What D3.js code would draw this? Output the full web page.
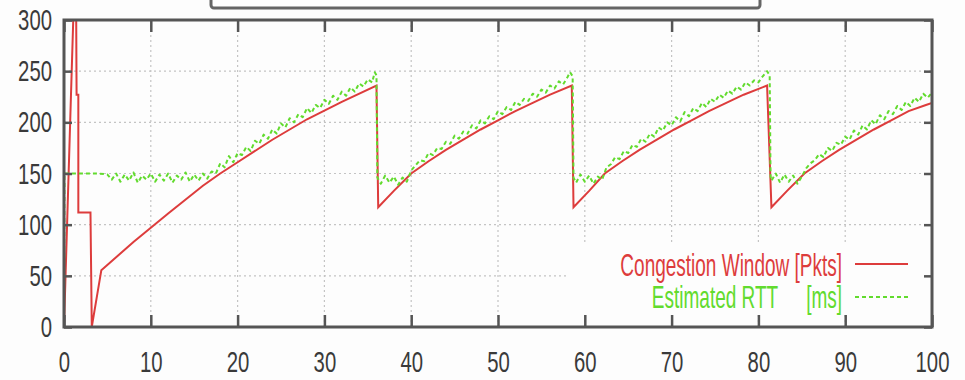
<!DOCTYPE html>
<html>
<head>
<meta charset="utf-8">
<script src="https://cdn.jsdelivr.net/npm/d3@7"></script>
<style>
  body { margin: 0; background: #fdfdfd; }
  svg { display: block; }
  .tick text { fill: #3a3a3a; }
</style>
</head>
<body>
<svg id="chart" width="965" height="380"></svg>
<script>
// values
const xTicks = [0, 10, 20, 30, 40, 50, 60, 70, 80, 90, 100];
const yTicks = [0, 50, 100, 150, 200, 250, 300];
const legendLabels = ["Congestion Window [Pkts]", "Estimated RTT", "[ms]"];

// congestion window [pkts] vs time
const cwnd = [
  [0, 0], [1.1, 310], [1.4, 310], [1.45, 227], [1.65, 227], [1.65, 112], [3.05, 112], [3.2, 0],
  [4.3, 55.5], [8, 83], [12, 111], [16, 138], [18, 150], [20, 161], [24, 183], [28, 203],
  [32, 220], [36, 236],
  [36.2, 117], [38, 133], [40, 150], [42, 162], [44, 173], [46, 183], [48, 193], [50, 202],
  [52, 211], [54, 219], [56, 227], [58.5, 236],
  [58.7, 117], [60.5, 133], [62.3, 150], [64.3, 162], [66.3, 173], [68.3, 183], [70.3, 193],
  [72.3, 202], [74.3, 211], [76.3, 219], [78.3, 227], [81, 236],
  [81.5, 117], [83.3, 133], [85.3, 150], [87.3, 162], [89.3, 173], [91.3, 183], [93.3, 193],
  [95.3, 202], [97.3, 211], [99.3, 217], [100, 219]
];

// estimated rtt [ms] vs time
const rtt = [
  [0, 0], [0.05, 150], [1, 150], [2, 150], [3, 150], [4, 150], [5, 149],
  [5.5, 144], [6, 150], [6.5, 142], [7, 149], [7.5, 143], [8, 151], [8.5, 141], [9, 148],
  [9.5, 144], [10, 150], [10.5, 142], [11, 149], [11.5, 143], [12, 150], [12.5, 141], [13, 148],
  [13.5, 144], [14, 151], [14.5, 142], [15, 149], [15.5, 143], [16, 150], [16.5, 145], [17, 152],
  [17.5, 150], [18, 160], [18.5, 156], [19, 167], [19.5, 161], [20, 170], [20.5, 168], [21, 176],
  [21.5, 172], [22, 182], [22.5, 179], [23, 188], [23.5, 184], [24, 193], [24.5, 189], [25, 199],
  [25.5, 195], [26, 204], [26.5, 200], [27, 208], [27.5, 205], [28, 214], [28.5, 209], [29, 217],
  [29.5, 214], [30, 222], [30.5, 218], [31, 226], [31.5, 222], [32, 230], [32.5, 226], [33, 234],
  [33.5, 230], [34, 238], [34.5, 235], [35, 242], [35.5, 239], [35.8, 249], [36, 246],
  [36.1, 146], [36.5, 140], [37, 148], [37.5, 141], [38, 147], [38.5, 139], [39, 146], [39.5, 142],
  [40, 153], [40.5, 158], [41, 163], [41.5, 162], [42, 170], [42.5, 168], [43, 175], [43.5, 174],
  [44, 181], [44.5, 179], [45, 187], [45.5, 184], [46, 191], [46.5, 189], [47, 197], [47.5, 194],
  [48, 202], [48.5, 199], [49, 206], [49.5, 203], [50, 211], [50.5, 208], [51, 215], [51.5, 212],
  [52, 220], [52.5, 217], [53, 223], [53.5, 221], [54, 228], [54.5, 225], [55, 232], [55.5, 229],
  [56, 236], [56.5, 233], [57, 240], [57.5, 237], [58, 244], [58.3, 249], [58.6, 245],
  [58.7, 146], [59, 141], [59.5, 149], [60, 142], [60.5, 148], [61, 140], [61.5, 147], [62, 144],
  [62.5, 156], [63, 159], [63.5, 166], [64, 164], [64.5, 172], [65, 170], [65.5, 178], [66, 176],
  [66.5, 184], [67, 181], [67.5, 189], [68, 186], [68.5, 195], [69, 192], [69.5, 200], [70, 197],
  [70.5, 205], [71, 201], [71.5, 210], [72, 206], [72.5, 214], [73, 211], [73.5, 219], [74, 215],
  [74.5, 223], [75, 220], [75.5, 227], [76, 224], [76.5, 231], [77, 228], [77.5, 235], [78, 232],
  [78.5, 239], [79, 236], [79.5, 241], [80, 239], [80.5, 245], [81, 250], [81.3, 246],
  [81.4, 147], [81.5, 143], [82, 150], [82.5, 141], [83, 149], [83.5, 142], [84, 148], [84.5, 140],
  [85, 147], [85.5, 155], [86, 160], [86.5, 163], [87, 169], [87.5, 166], [88, 175], [88.5, 172],
  [89, 180], [89.5, 178], [90, 186], [90.5, 183], [91, 192], [91.5, 188], [92, 197], [92.5, 193],
  [93, 202], [93.5, 198], [94, 207], [94.5, 203], [95, 211], [95.5, 208], [96, 216], [96.5, 212],
  [97, 220], [97.5, 216], [98, 224], [98.5, 220], [99, 228], [99.5, 224], [100, 229]
];

const RED = "#dd3c3c";
const GREEN = "#62db2e";
const AXIS = "#555";
const FONT = "'Liberation Sans Narrow', 'Arial Narrow', 'Liberation Sans', Arial, sans-serif";

const svg = d3.select("#chart");
const m = { left: 64, right: 932, top: 20, bottom: 327 };

const x = d3.scaleLinear().domain([0, 100]).range([m.left, m.right]);
const y = d3.scaleLinear().domain([0, 300]).range([m.bottom, m.top]);

// piece of the slide title box, cut off at the top
svg.append("rect")
  .attr("x", 211).attr("y", -20).attr("width", 549).attr("height", 28).attr("rx", 3)
  .attr("fill", "#fff").attr("stroke", "#666").attr("stroke-width", 3);

// grid
const grid = svg.append("g").attr("stroke", "#c4c4c4").attr("stroke-width", 1.2)
  .attr("stroke-dasharray", "2,3");
grid.selectAll(".gx").data(xTicks.slice(1, -1)).join("line")
  .attr("x1", d => x(d)).attr("x2", d => x(d)).attr("y1", m.top).attr("y2", m.bottom);
grid.selectAll(".gy").data(yTicks.slice(1, -1)).join("line")
  .attr("y1", d => y(d)).attr("y2", d => y(d)).attr("x1", m.left).attr("x2", m.right);

// legend background hides grid behind it
svg.append("rect").attr("x", 567).attr("y", 243).attr("width", m.right - 567 - 2).attr("height", 72)
  .attr("fill", "#fdfdfd");

// clip to plot area
svg.append("clipPath").attr("id", "plot").append("rect")
  .attr("x", m.left).attr("y", m.top).attr("width", m.right - m.left).attr("height", m.bottom - m.top);

const line = d3.line().x(d => x(d[0])).y(d => y(d[1]));
const plot = svg.append("g").attr("clip-path", "url(#plot)");

plot.append("path").datum(cwnd).attr("d", line)
  .attr("fill", "none").attr("stroke", RED).attr("stroke-width", 2);
plot.append("path").datum(rtt).attr("d", line)
  .attr("fill", "none").attr("stroke", GREEN).attr("stroke-width", 2)
  .attr("stroke-dasharray", "4,3").attr("stroke-linejoin", "round");

// axes
function styleAxis(g) {
  g.select(".domain").remove();
  g.selectAll(".tick line").attr("stroke", AXIS).attr("stroke-width", 2.5);
  g.selectAll(".tick text")
    .attr("font-family", FONT).attr("font-size", 30)
    .attr("textLength", d => String(d).length * 11.3)
    .attr("lengthAdjust", "spacingAndGlyphs");
}

svg.append("g").attr("transform", `translate(0,${m.bottom})`)
  .call(d3.axisBottom(x).tickValues(xTicks).tickSizeInner(-12).tickSizeOuter(0).tickPadding(24))
  .call(styleAxis);
svg.append("g").attr("transform", `translate(0,${m.top})`)
  .call(d3.axisTop(x).tickValues(xTicks).tickSizeInner(-12).tickSizeOuter(0).tickFormat(""))
  .call(styleAxis);
svg.append("g").attr("transform", `translate(${m.left},0)`)
  .call(d3.axisLeft(y).tickValues(yTicks).tickSizeInner(-8).tickSizeOuter(0).tickPadding(12))
  .call(styleAxis);
svg.append("g").attr("transform", `translate(${m.right},0)`)
  .call(d3.axisRight(y).tickValues(yTicks).tickSizeInner(-8).tickSizeOuter(0).tickFormat(""))
  .call(styleAxis);

svg.append("rect")
  .attr("x", m.left).attr("y", m.top).attr("width", m.right - m.left).attr("height", m.bottom - m.top)
  .attr("fill", "none").attr("stroke", AXIS).attr("stroke-width", 3);

// legend: small font stretched upright to get the tall condensed look
const legend = svg.append("g").attr("font-family", "'Liberation Sans', Arial, sans-serif")
  .attr("font-size", 19).attr("text-anchor", "end");
legend.append("text").attr("transform", "translate(842,276) scale(1,1.65)")
  .attr("fill", RED).text(legendLabels[0]);
const rttLabel = legend.append("text").attr("transform", "translate(842,308) scale(1,1.65)")
  .attr("fill", GREEN);
rttLabel.append("tspan").text(legendLabels[1]);
rttLabel.append("tspan").attr("dx", 28).text(legendLabels[2]);
legend.append("line").attr("x1", 855).attr("x2", 908).attr("y1", 264).attr("y2", 264)
  .attr("stroke", RED).attr("stroke-width", 2);
legend.append("line").attr("x1", 855).attr("x2", 908).attr("y1", 297).attr("y2", 297)
  .attr("stroke", GREEN).attr("stroke-width", 2).attr("stroke-dasharray", "4,3");
</script>
</body>
</html>
